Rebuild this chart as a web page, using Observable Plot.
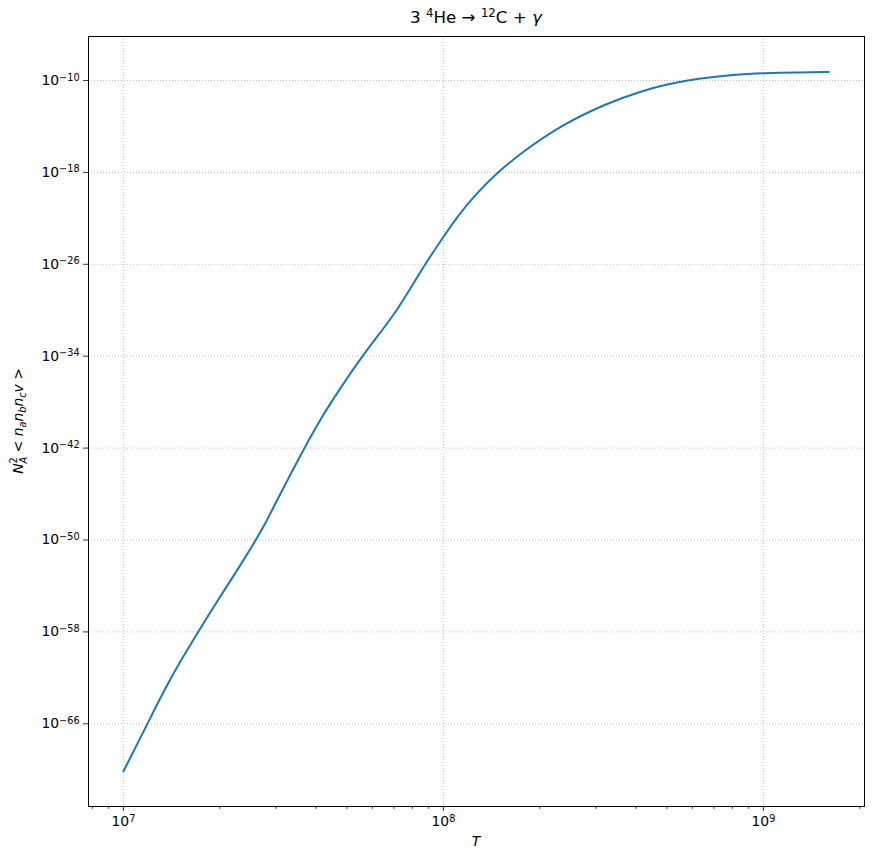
<!DOCTYPE html>
<html><head><meta charset="utf-8">
<script src="https://cdn.jsdelivr.net/npm/d3@7"></script>
<script src="https://cdn.jsdelivr.net/npm/@observablehq/plot@0.6"></script>
<style>
body{margin:0;background:#fff;font-family:"DejaVu Sans",sans-serif;}
#title{position:relative;height:30px;width:872px;}
#title span{position:absolute;left:476px;top:7px;transform:translateX(-50%);font-size:16.7px;white-space:nowrap;color:#000;}
#title sup{font-size:0.7em;vertical-align:baseline;position:relative;top:-0.5em;}
svg{overflow:visible;}
</style></head><body>
<div id="title"><span>3 <sup>4</sup>He → <sup>12</sup>C + <i>γ</i></span></div>
<div id="chart"></div>
<script>
// Temperature (K)
const temperature = [1.000e7, 1.189e7, 1.340e7, 1.510e7, 1.710e7, 1.968e7, 2.371e7, 2.594e7, 2.786e7, 2.958e7,
  3.673e7, 4.140e7, 4.775e7, 5.585e7, 6.531e7, 7.194e7, 7.907e7, 8.810e7, 1.002e8, 1.109e8,
  1.247e8, 1.476e8, 1.791e8, 2.317e8, 3.258e8, 4.150e8, 5.023e8, 6.237e8, 8.110e8, 1.000e9,
  1.312e9, 1.600e9];
// Reaction rate N_A^2 <n_a n_b n_c v>
const rate = [7.1e-71, 1.0e-66, 7.9e-64, 3.16e-61, 9.5e-59, 5.2e-56, 1.58e-52, 1.0e-50, 3.16e-49, 9.5e-48,
  1.0e-42, 3.9e-40, 1.86e-37, 1.07e-34, 3.1e-32, 1.23e-30, 8.7e-29, 1.29e-26, 2.6e-24, 1.58e-22,
  8.7e-21, 1.07e-18, 7.9e-17, 1.17e-14, 1.12e-12, 1.17e-11, 5.0e-11, 1.48e-10, 3.3e-10, 4.3e-10,
  5.2e-10, 5.4e-10];
const xMajorTicks = [1e7, 1e8, 1e9];
const xMinorTicks = [8e6, 9e6, 2e7, 3e7, 4e7, 5e7, 6e7, 7e7, 8e7, 9e7, 2e8, 3e8, 4e8, 5e8, 6e8, 7e8, 8e8, 9e8, 2e9];
const yMajorTicks = [1e-66, 1e-58, 1e-50, 1e-42, 1e-34, 1e-26, 1e-18, 1e-10];

const data = temperature.map((t, i) => ({T: t, rate: rate[i]}));
const expFmt = d => "10^" + String(Math.round(Math.log10(d))).replace("-", "\u2212");
const gridStyle = {stroke: "#b0b0b0", strokeOpacity: 1, strokeWidth: 0.8, strokeDasharray: "1,2"};

const svg = Plot.plot({
  width: 872, height: 834,
  marginTop: 6, marginBottom: 58, marginLeft: 88, marginRight: 8,
  style: {fontFamily: "DejaVu Sans", fontSize: "13.9px", color: "black", background: "white"},
  x: {type: "log", domain: [7.78e6, 2.07e9]},
  y: {type: "log", domain: [Math.pow(10, -73.2), Math.pow(10, -6.17)]},
  marks: [
    Plot.gridX(xMajorTicks, gridStyle),
    Plot.gridY(yMajorTicks, gridStyle),
    Plot.axisX(xMinorTicks, {tickSize: 2.8, tickFormat: () => "", label: null, strokeWidth: 0.8}),
    Plot.axisX(xMajorTicks, {tickSize: 4.9, tickPadding: 5, tickFormat: expFmt, label: null, strokeWidth: 0.8}),
    Plot.axisY(yMajorTicks, {tickSize: 4.9, tickPadding: 4, tickFormat: expFmt, label: null, strokeWidth: 0.8}),
    Plot.line(data, {x: "T", y: "rate", stroke: "#1f77b4", strokeWidth: 2, curve: "basis"}),
    Plot.frame({stroke: "black", strokeWidth: 1})
  ]
});
document.getElementById("chart").appendChild(svg);

// real superscripts for tick labels
d3.select(svg).selectAll("text").each(function() {
  const m = /^10\^(.+)$/.exec(this.textContent);
  if (!m) return;
  const sel = d3.select(this);
  sel.text(null);
  sel.append("tspan").text("10");
  sel.append("tspan").attr("dy", "-0.45em").attr("font-size", "0.7em").text(m[1]);
});

// axis labels
const s = d3.select(svg);
s.append("text").attr("x", 476).attr("y", 816).attr("text-anchor", "middle")
  .attr("font-size", "13.9px").attr("font-style", "italic").attr("fill", "black").text("T");

const yl = s.append("text").attr("transform", "translate(23,391) rotate(-90)")
  .attr("text-anchor", "middle").attr("font-size", "13.9px").attr("fill", "black");
yl.append("tspan").attr("font-style", "italic").text("N");
yl.append("tspan").attr("font-size", "9.7px").attr("dy", "-6").text("2");
yl.append("tspan").attr("font-size", "9.7px").attr("font-style", "italic").attr("dx", "-6.2").attr("dy", "10").text("A");
yl.append("tspan").attr("dy", "-4").text(" < ");
yl.append("tspan").attr("font-style", "italic").text("n");
yl.append("tspan").attr("font-style", "italic").attr("font-size", "9.7px").attr("dy", "3").text("a");
yl.append("tspan").attr("font-style", "italic").attr("dy", "-3").text("n");
yl.append("tspan").attr("font-style", "italic").attr("font-size", "9.7px").attr("dy", "3").text("b");
yl.append("tspan").attr("font-style", "italic").attr("dy", "-3").text("n");
yl.append("tspan").attr("font-style", "italic").attr("font-size", "9.7px").attr("dy", "3").text("c");
yl.append("tspan").attr("font-style", "italic").attr("dy", "-3").text("v");
yl.append("tspan").text(" >");
</script>
</body></html>
